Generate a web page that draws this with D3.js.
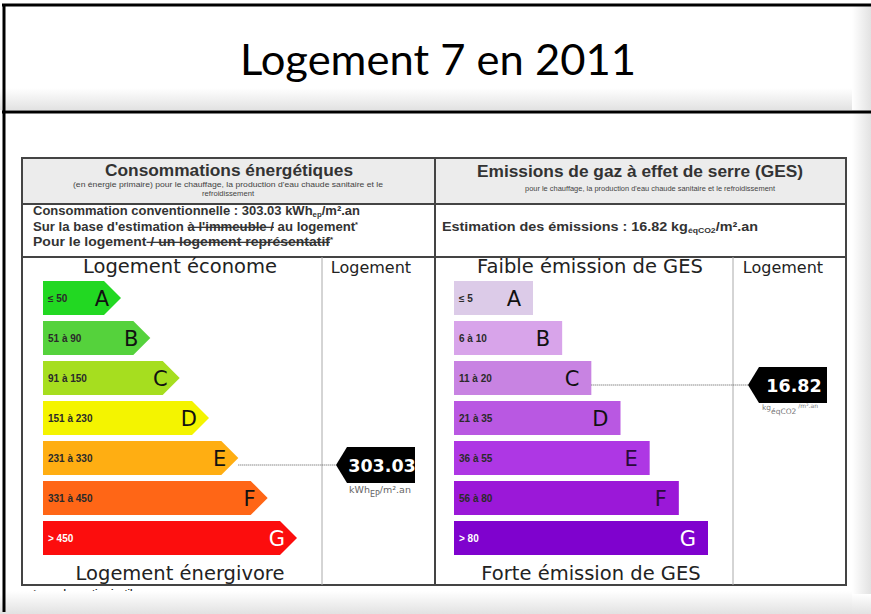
<!DOCTYPE html>
<html><head><meta charset="utf-8">
<script src="https://cdn.jsdelivr.net/npm/d3@7"></script>
<style>html,body{margin:0;padding:0;background:#fff;}svg{display:block;}</style>
</head><body>
<script>
// ---- data ----
const titleText = "Logement 7 en 2011";
const classes = ["A","B","C","D","E","F","G"];
const energyRanges = ["≤ 50","51 à 90","91 à 150","151 à 230","231 à 330","331 à 450","> 450"];
const energyColors = ["#22d822","#55d23c","#a6de1f","#f4f400","#ffae12","#ff6616","#fc0d0d"];
const gesRanges = ["≤ 5","6 à 10","11 à 20","21 à 35","36 à 55","56 à 80","> 80"];
const gesColors = ["#dccbe8","#d8a4ea","#c883e2","#b958e2","#ae37e4","#9b18d8","#7f02ce"];
const energyValue = 303.03, energyClass = "E";
const gesValue = 16.82, gesClass = "C";

const W = 871, H = 614;
const svg = d3.select("body").append("svg").attr("width", W).attr("height", H);
const defs = svg.append("defs");
const gv = defs.append("linearGradient").attr("id","gv").attr("x1",0).attr("x2",0).attr("y1",0).attr("y2",1);
gv.append("stop").attr("offset","0%").attr("stop-color","#fff");
gv.append("stop").attr("offset","100%").attr("stop-color","#e2e2e2");
const gh = defs.append("linearGradient").attr("id","gh").attr("x1",0).attr("x2",1).attr("y1",0).attr("y2",0);
gh.append("stop").attr("offset","0%").attr("stop-color","#fff");
gh.append("stop").attr("offset","100%").attr("stop-color","#e2e2e2");

const sans = "'Liberation Sans', Arial, sans-serif";
const dv = "'DejaVu Sans', Verdana, sans-serif";

// ---- slide frame ----
svg.append("rect").attr("x",0).attr("y",88).attr("width",W).attr("height",22).attr("fill","url(#gv)");
svg.append("rect").attr("x",852).attr("y",5).attr("width",19).attr("height",H).attr("fill","url(#gh)");
svg.append("rect").attr("x",0).attr("y",594).attr("width",W).attr("height",20).attr("fill","url(#gv)");
svg.append("line").attr("x1",2).attr("x2",W).attr("y1",5).attr("y2",5).attr("stroke","#000").attr("stroke-width",3);
svg.append("line").attr("x1",2).attr("x2",W).attr("y1",112).attr("y2",112).attr("stroke","#000").attr("stroke-width",3);

svg.append("text").attr("x",240).attr("y",75)
  .attr("font-family","Lato, 'Open Sans', sans-serif").attr("font-size",43).attr("fill","#000")
  .attr("textLength",396).attr("lengthAdjust","spacingAndGlyphs").text(titleText);

// ---- label box ----
const L = 22, R = 846, T = 158, B = 585, MID = 435;
const g = svg.append("g");
g.append("rect").attr("x",L).attr("y",T).attr("width",R-L).attr("height",204-T).attr("fill","#ececec");
g.append("rect").attr("x",L).attr("y",T).attr("width",R-L).attr("height",B-T).attr("fill","none").attr("stroke","#444").attr("stroke-width",2);
g.append("line").attr("x1",L).attr("x2",R).attr("y1",204).attr("y2",204).attr("stroke","#444").attr("stroke-width",2);
g.append("line").attr("x1",L).attr("x2",R).attr("y1",257).attr("y2",257).attr("stroke","#444").attr("stroke-width",2);
g.append("line").attr("x1",MID).attr("x2",MID).attr("y1",T).attr("y2",B).attr("stroke","#444").attr("stroke-width",2);
g.append("line").attr("x1",322).attr("x2",322).attr("y1",257).attr("y2",B).attr("stroke","#aaa").attr("stroke-width",1);
g.append("line").attr("x1",733).attr("x2",733).attr("y1",257).attr("y2",B).attr("stroke","#aaa").attr("stroke-width",1);

// fitted text helper
function fitText(x, y, txt, size, len, opts) {
  opts = opts || {};
  const t = g.append("text").attr("x",x).attr("y",y).attr("font-family",opts.family||sans)
    .attr("font-size",size).attr("font-weight",opts.weight||"normal").attr("fill",opts.fill||"#333")
    .attr("textLength",len).attr("lengthAdjust","spacingAndGlyphs");
  if (txt) t.text(txt);
  return t;
}
// headers
fitText(105, 176, "Consommations énergétiques", 16.5, 248, {weight:"bold"});
fitText(73, 187, "(en énergie primaire) pour le chauffage, la production d'eau chaude sanitaire et le", 7.5, 310, {fill:"#444"});
fitText(202, 196, "refroidissement", 7.5, 52, {fill:"#444"});
fitText(477, 177, "Emissions de gaz à effet de serre (GES)", 16.5, 326, {weight:"bold"});
fitText(525, 191, "pour le chauffage, la production d'eau chaude sanitaire et le refroidissement", 7, 250, {fill:"#444"});

// second row
const t1 = fitText(33, 215, null, 12.5, 327, {weight:"bold"});
t1.append("tspan").text("Consommation conventionnelle : " + energyValue.toFixed(2) + " kWh");
t1.append("tspan").attr("font-size",7.5).attr("dy",2).text("ep");
t1.append("tspan").attr("dy",-2).text("/m².an");
const t2 = fitText(33, 231, null, 12.5, 325, {weight:"bold"});
t2.append("tspan").text("Sur la base d'estimation ");
t2.append("tspan").attr("text-decoration","line-through").text("à l'immeuble /");
t2.append("tspan").text(" au logement");
t2.append("tspan").attr("font-size",7).attr("dy",-4).text("*");
const t3 = fitText(33, 246, null, 12.5, 300, {weight:"bold"});
t3.append("tspan").text("Pour le logement");
t3.append("tspan").attr("text-decoration","line-through").text(" / un logement représentatif");
t3.append("tspan").attr("font-size",7).attr("dy",-4).text("*");
const t4 = fitText(442, 231, null, 12.5, 316, {weight:"bold"});
t4.append("tspan").text("Estimation des émissions : " + gesValue.toFixed(2) + " kg");
t4.append("tspan").attr("font-size",7.5).attr("dy",2).text("éqCO2");
t4.append("tspan").attr("dy",-2).text("/m².an");

// column titles
const colText = (x, y, txt, size) => g.append("text").attr("x",x).attr("y",y).attr("text-anchor","middle")
  .attr("font-family",dv).attr("font-size",size).attr("fill","#222").text(txt);
colText(180, 273, "Logement économe", 19.5);
colText(371, 273, "Logement", 16);
colText(590, 273, "Faible émission de GES", 19.5);
colText(783, 273, "Logement", 16);
colText(180, 580, "Logement énergivore", 19.5);
colText(591, 580, "Forte émission de GES", 19.5);

// ---- scales ----
const y = d3.scaleBand().domain(classes).range([281, 555]).paddingInner(0.15).paddingOuter(0);
const energyTip = d3.scaleLinear().domain([0, classes.length - 1]).range([121, 297]);
const gesRight = d3.scaleLinear().domain([0, classes.length - 1]).range([533, 708]);
const bh = y.bandwidth();
const eX0 = 43, gX0 = 454;

// energy bars
classes.forEach((c, i) => {
  const y0 = y(c), tip = energyTip(i), half = bh / 2;
  g.append("path").attr("d", `M${eX0},${y0}H${tip-half}L${tip},${y0+half}L${tip-half},${y0+bh}H${eX0}Z`).attr("fill", energyColors[i]);
  g.append("text").attr("x", eX0 + 5).attr("y", y0 + half + 3.5).attr("font-family",sans).attr("font-weight","bold")
    .attr("font-size",10).attr("fill", i === 6 ? "#fff" : "#2a2a2a").text(energyRanges[i]);
  g.append("text").attr("x", tip - 12).attr("y", y0 + half + 7.5).attr("text-anchor","end").attr("font-family",dv)
    .attr("font-size",21).attr("fill", i === 6 ? "#fff" : "#111").text(c);
});
// ges bars
classes.forEach((c, i) => {
  const y0 = y(c), right = gesRight(i), half = bh / 2;
  g.append("rect").attr("x", gX0).attr("y", y0).attr("width", right - gX0).attr("height", bh).attr("fill", gesColors[i]);
  g.append("text").attr("x", gX0 + 5).attr("y", y0 + half + 3.5).attr("font-family",sans).attr("font-weight","bold")
    .attr("font-size",10).attr("fill", i === 6 ? "#fff" : "#2a2a2a").text(gesRanges[i]);
  g.append("text").attr("x", right - 12).attr("y", y0 + half + 7.5).attr("text-anchor","end").attr("font-family",dv)
    .attr("font-size",21).attr("fill", i === 6 ? "#fff" : (i >= 4 ? "#2a0a3a" : "#111")).text(c);
});

// indicators
function indicator(cls, fromX, tipX, rightX, valueText) {
  const cy = y(cls) + bh / 2 + 7, h = 36;
  g.append("line").attr("x1", fromX).attr("x2", tipX).attr("y1", cy).attr("y2", cy)
    .attr("stroke","#555").attr("stroke-width",1).attr("stroke-dasharray","1,1");
  g.append("path").attr("d", `M${tipX},${cy}L${tipX+11},${cy-h/2}H${rightX}V${cy+h/2}H${tipX+11}Z`).attr("fill","#000");
  g.append("text").attr("x", (tipX + 11 + rightX) / 2 + 1).attr("y", cy + 6.5).attr("text-anchor","middle")
    .attr("font-family",dv).attr("font-weight","bold").attr("font-size",17.5).attr("fill","#fff").text(valueText);
  return cy + h / 2;
}
const eIdx = classes.indexOf(energyClass), gIdx = classes.indexOf(gesClass);
const eb = indicator(energyClass, energyTip(eIdx), 336, 415, energyValue.toFixed(2));
const gb = indicator(gesClass, gesRight(gIdx), 748, 827, gesValue.toFixed(2));

const u1 = g.append("text").attr("x", 380).attr("y", eb + 10).attr("text-anchor","middle").attr("font-family",dv)
  .attr("font-size",9.5).attr("fill","#666");
u1.append("tspan").text("kWh");
u1.append("tspan").attr("font-size",8).attr("dy",4).text("EP");
u1.append("tspan").attr("dy",-4).text("/m².an");
const u2 = g.append("text").attr("x", 790).attr("y", gb + 7).attr("text-anchor","middle").attr("font-family",dv)
  .attr("font-size",7.5).attr("fill","#777");
u2.append("tspan").text("kg");
u2.append("tspan").attr("font-size",7.5).attr("dy",4).text("éqCO2");
u2.append("tspan").attr("dy",-6).attr("font-size",6).text(" /m².an");

// footnote partly hidden
svg.append("text").attr("x",33).attr("y",596).attr("font-family",sans).attr("font-size",9).attr("font-weight","bold")
  .attr("fill","#222").text("* rayer la mention inutile");
svg.append("rect").attr("x",6).attr("y",591).attr("width",846).attr("height",23).attr("fill","url(#gv)");
svg.append("line").attr("x1",4).attr("x2",4).attr("y1",4).attr("y2",612).attr("stroke","#000").attr("stroke-width",3);
</script>
</body></html>
